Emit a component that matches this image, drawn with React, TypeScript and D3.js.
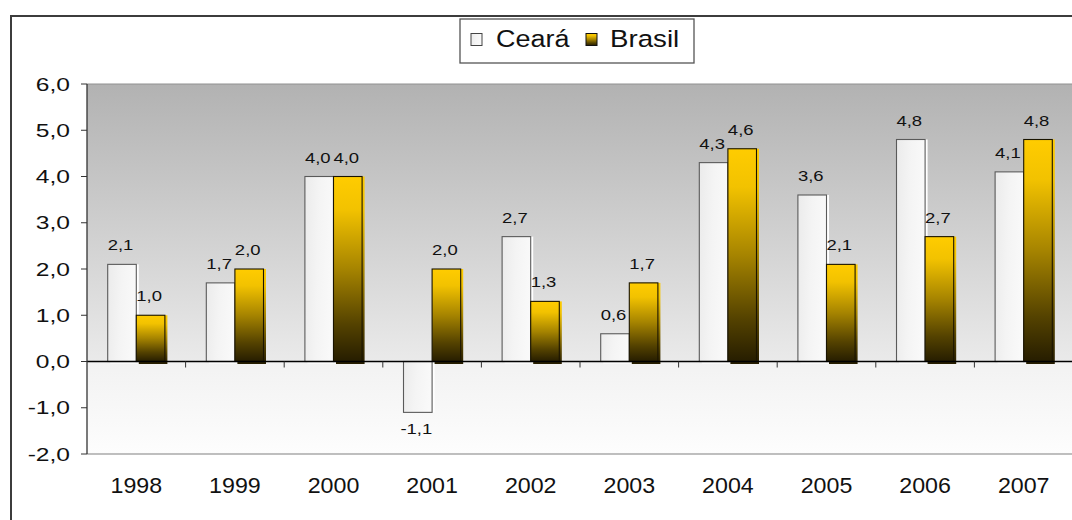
import React from "react";
import * as d3 from "d3";

const years = ["1998", "1999", "2000", "2001", "2002", "2003", "2004", "2005", "2006", "2007"];
const ceara = [2.1, 1.7, 4.0, -1.1, 2.7, 0.6, 4.3, 3.6, 4.8, 4.1];
const brasil = [1.0, 2.0, 4.0, 2.0, 1.3, 1.7, 4.6, 2.1, 2.7, 4.8];
const yTicks = [-2, -1, 0, 1, 2, 3, 4, 5, 6];
const seriesNames = ["Ceará", "Brasil"];

const W = 1072;
const H = 520;
const plotLeft = 87;
const plotRight = 1073;
const plotTop = 84;
const plotBottom = 454;
const FONT = "'Liberation Sans', Arial, sans-serif";

const fmt = (v: number) => v.toFixed(1).replace(".", ",");

type TProps = {
  x: number;
  y: number;
  size: number;
  sx: number;
  anchor?: "start" | "middle" | "end";
  dy?: string;
  children: React.ReactNode;
};

function T({ x, y, size, sx, anchor = "start", dy, children }: TProps) {
  return (
    <text
      transform={`translate(${x},${y}) scale(${sx},1)`}
      textAnchor={anchor}
      fontSize={size}
      dy={dy}
      fill="#111"
    >
      {children}
    </text>
  );
}

export default function App() {
  const x = d3.scaleBand<string>().domain(years).range([plotLeft, plotRight]).paddingInner(0).paddingOuter(0);
  const y = d3.scaleLinear().domain([-2, 6]).range([plotBottom, plotTop]);
  const bw = x.bandwidth() * 0.29;
  const y0 = y(0);

  return (
    <svg width={W} height={H} style={{ position: "absolute", left: 0, top: 0, background: "#fff" }} fontFamily={FONT}>
      <defs>
        <linearGradient id="bg" x1="0" y1="0" x2="0" y2="1">
          <stop offset="0" stopColor="#b2b2b2" />
          <stop offset="0.75" stopColor="#eaeaea" />
          <stop offset="0.752" stopColor="#f2f2f2" />
          <stop offset="1" stopColor="#fdfdfd" />
        </linearGradient>
        <linearGradient id="gold" x1="0" y1="0" x2="0" y2="1">
          <stop offset="0" stopColor="#ffcc00" />
          <stop offset="0.18" stopColor="#f2c200" />
          <stop offset="0.5" stopColor="#a68400" />
          <stop offset="0.8" stopColor="#544200" />
          <stop offset="1" stopColor="#261d00" />
        </linearGradient>
        <linearGradient id="white" x1="0" y1="0" x2="1" y2="0.15">
          <stop offset="0" stopColor="#ebebeb" />
          <stop offset="0.5" stopColor="#f4f4f4" />
          <stop offset="1" stopColor="#f9f9f9" />
        </linearGradient>
      </defs>

      {/* outer frame */}
      <rect x={11} y={16} width={1200} height={700} fill="none" stroke="#3c3c3c" strokeWidth={2} />

      {/* plot area */}
      <rect x={plotLeft} y={plotTop} width={plotRight - plotLeft} height={plotBottom - plotTop} fill="url(#bg)" />
      <line x1={plotLeft} x2={plotRight} y1={plotTop} y2={plotTop} stroke="#909090" strokeWidth={1} />
      <line x1={plotLeft} x2={plotRight} y1={plotBottom} y2={plotBottom} stroke="#808080" strokeWidth={1.2} />

      {/* bars */}
      {years.map((yr, i) => {
        const cx = (x(yr) as number) + x.bandwidth() / 2;
        const vc = ceara[i];
        const vb = brasil[i];
        const cy1 = Math.min(y(vc), y0);
        const ch = Math.abs(y(vc) - y0);
        const by1 = Math.min(y(vb), y0);
        const bh = Math.abs(y(vb) - y0);
        return (
          <g key={yr}>
            <rect x={cx - bw + 2.5} y={cy1} width={bw} height={ch + (vc >= 0 ? 2 : 0)} fill="#ffffff" />
            <rect x={cx - bw} y={cy1} width={bw} height={ch} fill="url(#white)" stroke="#5a5a5a" strokeWidth={1.1} />
            <rect x={cx + 2.5} y={by1} width={bw} height={bh + 2.5} fill="url(#gold)" />
            <rect x={cx} y={by1} width={bw} height={bh} fill="url(#gold)" stroke="#1a1400" strokeWidth={1.1} />
          </g>
        );
      })}

      {/* zero line */}
      <line x1={plotLeft} x2={plotRight} y1={y0} y2={y0} stroke="#000" strokeWidth={1.3} />
      {years.map((yr, i) =>
        i === 0 ? null : (
          <line key={"xt" + yr} x1={x(yr) as number} x2={x(yr) as number} y1={y0} y2={y0 + 6} stroke="#333" strokeWidth={1} />
        )
      )}

      {/* y axis */}
      <line x1={plotLeft} x2={plotLeft} y1={plotTop} y2={plotBottom} stroke="#333" strokeWidth={1.3} />
      {yTicks.map((t) => (
        <g key={"yt" + t}>
          <line x1={plotLeft - 6} x2={plotLeft} y1={y(t)} y2={y(t)} stroke="#333" strokeWidth={1} />
          <T x={plotLeft - 17} y={y(t)} dy="0.36em" anchor="end" size={18.5} sx={1.33}>
            {fmt(t)}
          </T>
        </g>
      ))}

      {/* data labels */}
      {years.map((yr, i) => {
        const cx = (x(yr) as number) + x.bandwidth() / 2;
        const vc = ceara[i];
        const vb = brasil[i];
        return (
          <g key={"lab" + yr}>
            <T x={cx - bw / 2 - 1.5} y={vc >= 0 ? y(vc) - 14 : y(vc) + 22} anchor="middle" size={14} sx={1.32}>
              {fmt(vc)}
            </T>
            <T x={cx + bw / 2 - 1.5} y={vb >= 0 ? y(vb) - 14 : y(vb) + 22} anchor="middle" size={14} sx={1.32}>
              {fmt(vb)}
            </T>
          </g>
        );
      })}

      {/* x labels */}
      {years.map((yr) => (
        <T key={"xl" + yr} x={(x(yr) as number) + x.bandwidth() / 2} y={493} anchor="middle" size={21.5} sx={1.08}>
          {yr}
        </T>
      ))}

      {/* legend */}
      <g>
        <rect x={460} y={19} width={234} height={44} fill="#fff" stroke="#555" strokeWidth={1.3} />
        <rect x={471} y={33.5} width={11} height={12} fill="url(#white)" stroke="#444" strokeWidth={1} />
        <T x={496} y={47} size={24.5} sx={1.1}>{seriesNames[0]}</T>
        <rect x={586} y={33.5} width={11} height={12} fill="url(#gold)" stroke="#111" strokeWidth={1} />
        <T x={610} y={47} size={24.5} sx={1.13}>{seriesNames[1]}</T>
      </g>
    </svg>
  );
}
